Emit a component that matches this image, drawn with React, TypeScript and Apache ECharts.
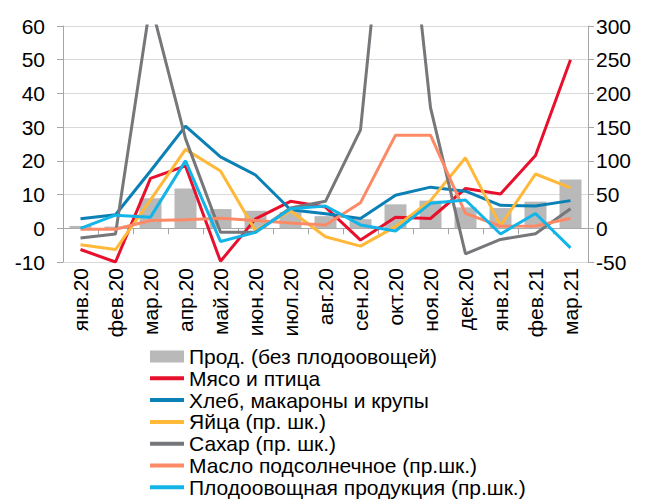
import React, { useEffect, useRef } from "react";
import * as echarts from "echarts";

const months = ["янв.20", "фев.20", "мар.20", "апр.20", "май.20", "июн.20", "июл.20", "авг.20", "сен.20", "окт.20", "ноя.20", "дек.20", "янв.21", "фев.21", "мар.21"];

const prodNoFruit = [0.7, 0.5, 8.9, 11.8, 5.7, 5.2, 4.8, 3.6, 2.7, 7.1, 8.2, 6.2, 6.0, 7.9, 14.5];
const meat = [-6.3, -10, 14.8, 18.5, -9.8, 2.8, 8.0, 6.3, -3.5, 3.3, 2.9, 11.8, 10.2, 21.6, 50];
const bread = [2.8, 4.0, 17, 30.3, 21.2, 15.8, 5.5, 4.3, 2.9, 9.8, 12.2, 11.0, 6.8, 6.6, 8.2];
const eggs = [-24.5, -31.5, 42, 117, 85, -3.5, 26, -12.5, -26.5, 2.5, 41, 104.5, 4, 80.5, 60];
const sugar = [-14.5, -8.5, 335, 133, -6, -6, 30, 40, 146, 660, 179, -38, -16.5, -8, 29];
const sunflowerOil = [-1.5, -1.5, 11.5, 12.5, 15, 11.5, 8, 5, 38, 138, 138, 22, 3, 3.5, 15];
const fruitVeg = [0, 19.5, 16.5, 100, -19.5, -6, 29, 33, 5, -4, 37, 42, -8.5, 22, -29];

const leftTicks = { min: -10, max: 60, interval: 10 };
const rightTicks = { min: -50, max: 300, interval: 50 };

const FONT = "'Liberation Sans', Arial, sans-serif";
const LINE_ICON = "path://M0,0 L34,0 L34,4 L0,4 Z";

export default function App() {
  const ref = useRef<HTMLDivElement>(null);
  useEffect(() => {
    document.body.style.margin = "0";
    const chart = echarts.init(ref.current!, null, { renderer: "svg" });
    const axisGray = "#a6a6a6";
    const lineSeries = (name: string, data: number[], color: string, yAxisIndex: number) => ({
      name,
      type: "line",
      data,
      xAxisIndex: 0,
      yAxisIndex,
      symbol: "none",
      lineStyle: { width: 3, color },
      itemStyle: { color },
    });
    const lineNames = [
      "Мясо и птица",
      "Хлеб, макароны и крупы",
      "Яйца (пр. шк.)",
      "Сахар (пр. шк.)",
      "Масло подсолнечное (пр.шк.)",
      "Плодоовощная продукция (пр.шк.)",
    ];
    chart.setOption({
      animation: false,
      textStyle: { fontFamily: FONT },
      grid: { left: 63, right: 59, top: 26, bottom: 239, containLabel: false },
      legend: {
        orient: "vertical",
        left: 145,
        top: 341,
        height: 200,
        itemWidth: 34,
        itemHeight: 12,
        itemGap: 0.8,
        symbolKeepAspect: true,
        textStyle: { fontSize: 21, color: "#000", fontFamily: FONT },
        data: [
          { name: "Прод. (без плодоовощей)", icon: "rect" },
          ...lineNames.map((n) => ({ name: n, icon: LINE_ICON })),
        ],
      },
      xAxis: [
        {
          type: "category",
          data: months,
          position: "bottom",
          boundaryGap: true,
          axisLine: { show: false },
          axisTick: { show: false },
          axisLabel: { rotate: 90, margin: 6, fontSize: 21, color: "#000", fontFamily: FONT, interval: 0 },
          splitLine: { show: false },
        },
        {
          type: "category",
          data: months,
          position: "top",
          boundaryGap: true,
          axisLine: { show: true, onZero: true, onZeroAxisIndex: 0, lineStyle: { color: axisGray, width: 1 } },
          axisTick: { show: true, inside: true, length: 6, interval: 0, lineStyle: { color: axisGray } },
          axisLabel: { show: false },
          splitLine: { show: false },
        },
      ],
      yAxis: [
        {
          type: "value",
          position: "left",
          ...leftTicks,
          axisLine: { show: true, lineStyle: { color: axisGray } },
          axisTick: { show: true, length: 6, lineStyle: { color: axisGray } },
          axisLabel: { fontSize: 21, color: "#000", margin: 18, fontFamily: FONT },
          splitLine: { show: true, lineStyle: { color: "#d9d9d9", width: 1 } },
        },
        {
          type: "value",
          position: "right",
          ...rightTicks,
          axisLine: { show: true, lineStyle: { color: axisGray } },
          axisTick: { show: true, length: 6, lineStyle: { color: axisGray } },
          axisLabel: { fontSize: 21, color: "#000", margin: 8, fontFamily: FONT },
          splitLine: { show: false },
        },
      ],
      series: [
        {
          name: "Прод. (без плодоовощей)",
          type: "bar",
          data: prodNoFruit,
          xAxisIndex: 0,
          yAxisIndex: 0,
          barWidth: 22,
          itemStyle: { color: "#b9b9b9" },
        },
        lineSeries(lineNames[0], meat, "#e8112d", 0),
        lineSeries(lineNames[1], bread, "#0a80b4", 0),
        lineSeries(lineNames[2], eggs, "#ffb838", 1),
        lineSeries(lineNames[3], sugar, "#76777a", 1),
        lineSeries(lineNames[4], sunflowerOil, "#fd8a66", 1),
        lineSeries(lineNames[5], fruitVeg, "#13b4e8", 1),
      ],
    });
    return () => chart.dispose();
  }, []);
  return <div ref={ref} style={{ width: 647, height: 501 }} />;
}
